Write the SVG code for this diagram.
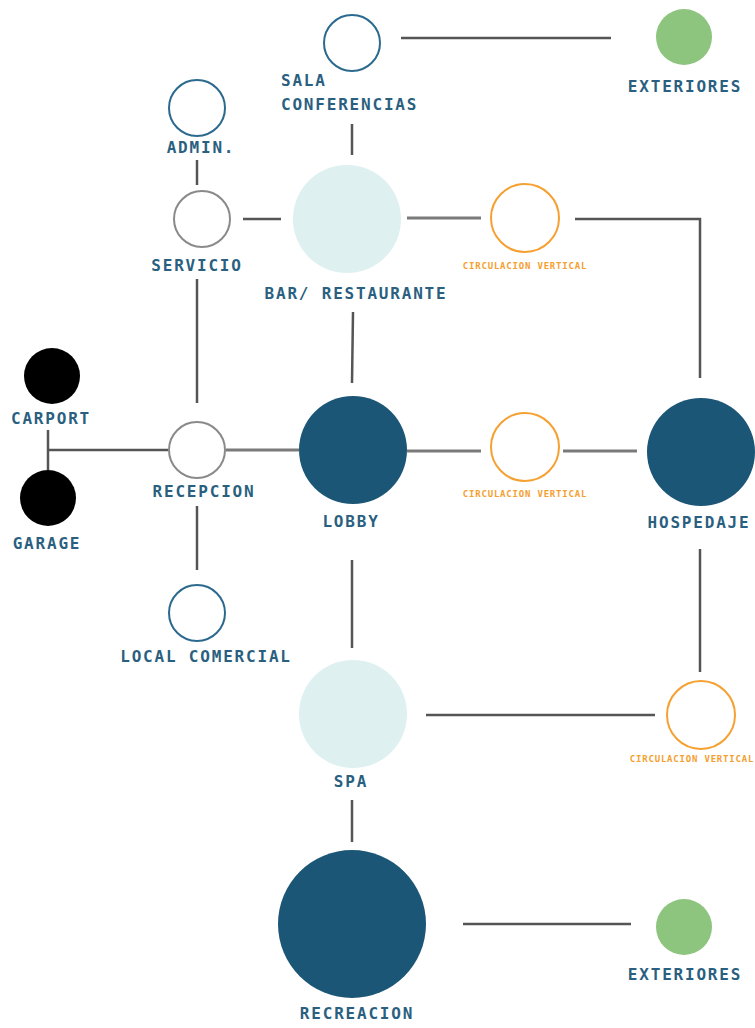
<svg xmlns="http://www.w3.org/2000/svg" width="755" height="1028" viewBox="0 0 755 1028">
<style>
.lbl{font-family:"DejaVu Sans Mono","Liberation Mono",monospace;font-weight:bold;font-size:16px;letter-spacing:1.8px;fill:#2a5f80;text-anchor:middle}
.cv{font-family:"DejaVu Sans Mono","Liberation Mono",monospace;font-weight:bold;font-size:9px;letter-spacing:0.8px;fill:#f5a030;text-anchor:middle}
.ob{fill:#fff;stroke:#2b6a8e;stroke-width:2}
.og{fill:#fff;stroke:#8a8a8a;stroke-width:2}
.oo{fill:#fff;stroke:#f5a030;stroke-width:2}
.dk{fill:#1b5676}
.lt{fill:#dff0f1}
.gr{fill:#8dc47e}
.bk{fill:#000}
.c{fill:none;stroke:#555;stroke-width:2.5}
.g{fill:none;stroke:#7a7a7a;stroke-width:3}
</style>
<g id="connectors">
<line class="c" x1="401" y1="38" x2="611" y2="38"/>
<line class="c" x1="352" y1="124" x2="352" y2="155"/>
<line class="c" x1="197" y1="160" x2="197" y2="185"/>
<line class="c" x1="243" y1="219" x2="281" y2="219"/>
<line class="g" x1="407" y1="218" x2="481" y2="218"/>
<polyline class="c" points="575,219 700,219 700,378"/>
<line class="c" x1="197" y1="279" x2="197" y2="403"/>
<line class="c" x1="353" y1="312" x2="352" y2="383"/>
<line class="c" x1="48" y1="430" x2="48" y2="470"/>
<line class="c" x1="48" y1="450" x2="168" y2="450"/>
<line class="g" x1="226" y1="450" x2="299" y2="450"/>
<line class="g" x1="407" y1="451" x2="481" y2="451"/>
<line class="g" x1="563" y1="451" x2="637" y2="451"/>
<line class="c" x1="197" y1="506" x2="197" y2="570"/>
<line class="c" x1="352" y1="560" x2="352" y2="648"/>
<line class="c" x1="700" y1="549" x2="700" y2="672"/>
<line class="c" x1="426" y1="715" x2="655" y2="715"/>
<line class="c" x1="352" y1="800" x2="352" y2="842"/>
<line class="c" x1="463" y1="924" x2="631" y2="924"/>
</g>
<g id="sala"><circle class="ob" cx="352" cy="43" r="28"/><text class="lbl" x="281" y="86" style="text-anchor:start">SALA</text><text class="lbl" x="281" y="110" style="text-anchor:start">CONFERENCIAS</text></g>
<g id="exteriores1"><circle class="gr" cx="684" cy="37" r="28"/><text class="lbl" x="685" y="92">EXTERIORES</text></g>
<g id="admin"><circle class="ob" cx="197" cy="108" r="28"/><text class="lbl" x="201" y="153">ADMIN.</text></g>
<g id="servicio"><circle class="og" cx="202" cy="219" r="28"/><text class="lbl" x="197" y="271">SERVICIO</text></g>
<g id="bar"><circle class="lt" cx="347" cy="219" r="54"/><text class="lbl" x="356" y="299">BAR/ RESTAURANTE</text></g>
<g id="circ1"><circle class="oo" cx="525" cy="218" r="34"/><text class="cv" x="525" y="269">CIRCULACION VERTICAL</text></g>
<g id="carport"><circle class="bk" cx="52" cy="376" r="28"/><text class="lbl" x="51" y="424">CARPORT</text></g>
<g id="garage"><circle class="bk" cx="48" cy="498" r="28"/><text class="lbl" x="47" y="549">GARAGE</text></g>
<g id="recepcion"><circle class="og" cx="197" cy="450" r="28"/><text class="lbl" x="204" y="497">RECEPCION</text></g>
<g id="lobby"><circle class="dk" cx="353" cy="450" r="54"/><text class="lbl" x="351" y="527">LOBBY</text></g>
<g id="circ2"><circle class="oo" cx="525" cy="447" r="34"/><text class="cv" x="525" y="497">CIRCULACION VERTICAL</text></g>
<g id="hospedaje"><circle class="dk" cx="701" cy="452" r="54"/><text class="lbl" x="699" y="528">HOSPEDAJE</text></g>
<g id="local"><circle class="ob" cx="197" cy="613" r="28"/><text class="lbl" x="206" y="662">LOCAL COMERCIAL</text></g>
<g id="spa"><circle class="lt" cx="353" cy="714" r="54"/><text class="lbl" x="351" y="787">SPA</text></g>
<g id="circ3"><circle class="oo" cx="701" cy="715" r="34"/><text class="cv" x="692" y="762">CIRCULACION VERTICAL</text></g>
<g id="recreacion"><circle class="dk" cx="352" cy="924" r="74"/><text class="lbl" x="357" y="1019">RECREACION</text></g>
<g id="exteriores2"><circle class="gr" cx="684" cy="927" r="28"/><text class="lbl" x="685" y="980">EXTERIORES</text></g>
</svg>
